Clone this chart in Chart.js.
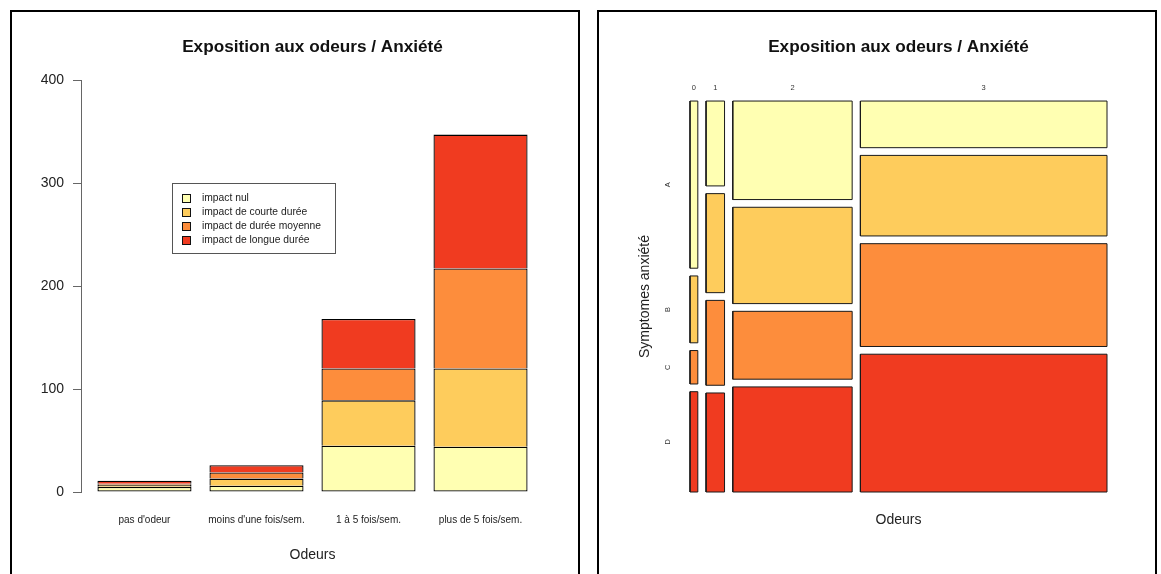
<!DOCTYPE html>
<html lang="fr">
<head>
<meta charset="utf-8">
<title>Exposition aux odeurs / Anxiété</title>
<script src="https://cdn.jsdelivr.net/npm/chart.js@4.4.1/dist/chart.umd.min.js"></script>
<style>
  html, body { margin: 0; padding: 0; background: #fff; overflow: hidden; }
  .panel { position: absolute; top: 10px; height: 600px; border: 2px solid #000; }
  #p1 { left: 10px; width: 566px; }
  #p2 { left: 597px; width: 556px; }
  canvas { display: block; }
</style>
</head>
<body>
<div class="panel" id="p1"><canvas id="barres" width="566" height="562"></canvas></div>
<div class="panel" id="p2"><canvas id="mosaique" width="556" height="562"></canvas></div>
<script>
// données
const odeurs = ["pas d'odeur", "moins d'une fois/sem.", "1 à 5 fois/sem.", "plus de 5 fois/sem."];
const impacts = ["impact nul", "impact de courte durée", "impact de durée moyenne", "impact de longue durée"];
const impactNul   = [5, 6, 45, 44];
const impactCourt = [2, 7, 44, 76];
const impactMoyen = [1, 6, 31, 97];
const impactLong  = [3, 7, 48, 130];
const codesOdeurs = ["0", "1", "2", "3"];
const codesAnxiete = ["A", "B", "C", "D"];
const yTicks = [0, 100, 200, 300, 400];

const titre = "Exposition aux odeurs / Anxiété";
const couleurs = ["#FFFFB2", "#FECC5C", "#FD8D3C", "#F03B20"];
const series = [impactNul, impactCourt, impactMoyen, impactLong];

Chart.defaults.font.family = "'Liberation Sans', Arial, sans-serif";
Chart.defaults.color = "#222";

// positions des barres comme barplot() de R (largeur 1, espace 0.2)
const centres = odeurs.map((_, i) => 0.7 + 1.2 * i);

// légende dessinée dans la zone du graphique, coin haut gauche en (1, 300)
const legendeAt = { x: 1, y: 300 };
const legendeBoite = {
    id: "legendeBoite",
    afterDatasetsDraw(chart) {
        const ctx = chart.ctx;
        const left = chart.scales.x.getPixelForValue(legendeAt.x);
        const top = chart.scales.y.getPixelForValue(legendeAt.y);
        ctx.save();
        ctx.font = "10.3px 'Liberation Sans', Arial, sans-serif";
        let w = 0;
        chart.data.datasets.forEach(ds => { w = Math.max(w, ctx.measureText(ds.label).width); });
        const width = 29.5 + w + 14;
        const height = 70;
        ctx.strokeStyle = "#555";
        ctx.lineWidth = 1;
        ctx.strokeRect(Math.round(left) + 0.5, Math.round(top) + 0.5, Math.round(width), height);
        chart.data.datasets.forEach((ds, k) => {
            const yc = top + 15 + 14 * k;
            ctx.fillStyle = ds.backgroundColor;
            ctx.fillRect(Math.round(left + 10), Math.round(yc - 4.5), 9, 9);
            ctx.strokeStyle = "#111";
            ctx.strokeRect(Math.round(left + 10) + 0.5, Math.round(yc - 4.5) + 0.5, 8, 8);
            ctx.fillStyle = "#222";
            ctx.textBaseline = "middle";
            ctx.fillText(ds.label, left + 29.5, yc);
        });
        ctx.restore();
    }
};

new Chart(document.getElementById("barres"), {
    type: "bar",
    data: {
        datasets: series.map((vals, k) => ({
            label: impacts[k],
            data: vals.map((v, i) => ({ x: centres[i], y: v })),
            backgroundColor: couleurs[k],
            borderColor: "#000",
            borderWidth: 1.3,
            borderSkipped: k === 0 ? false : "start",
            barPercentage: 0.84,
            categoryPercentage: 1
        }))
    },
    options: {
        responsive: false,
        animation: false,
        layout: { padding: { left: 0, right: 34, top: 0, bottom: 0 } },
        plugins: {
            legend: { display: false },
            tooltip: { enabled: false },
            title: {
                display: true, text: titre, fullSize: false, color: "#111",
                font: { size: 17.2, weight: "bold" },
                padding: { top: 25, bottom: 22.4 }
            }
        },
        scales: {
            x: {
                type: "linear", min: 0.02, max: 4.98, stacked: true, offset: false,
                grid: { display: false, offset: false }, border: { display: false },
                afterBuildTicks: s => { s.ticks = centres.map(v => ({ value: v })); },
                ticks: { callback: (v, i) => odeurs[i], font: { size: 10 }, padding: 14, maxRotation: 0, autoSkip: false },
                title: { display: true, text: "Odeurs", font: { size: 14 }, padding: { top: 0, bottom: 10 } },
                afterFit: s => { s.height = 82; }
            },
            y: {
                min: yTicks[0], max: yTicks[yTicks.length - 1], stacked: true,
                afterBuildTicks: s => { s.ticks = yTicks.map(v => ({ value: v })); },
                grid: { display: true, drawOnChartArea: false, tickLength: 8, color: "#666" },
                border: { display: true, color: "#666" },
                ticks: { font: { size: 14 }, padding: 9 },
                afterFit: s => { s.width = 69; }
            }
        }
    },
    plugins: [legendeBoite]
});

// mosaïque : largeurs des colonnes selon les totaux, hauteurs selon les proportions
const totaux = odeurs.map((_, i) => series.reduce((s, vals) => s + vals[i], 0));
const total = totaux.reduce((a, b) => a + b, 0);
const ecart = 0.021;
const xMax = 1 + ecart * (odeurs.length - 1);
const yMax = 1 + ecart * (impacts.length - 1);
const centresColonnes = [];
const centresLignes = [];
const rects = [];
let x0 = 0;
totaux.forEach((t, i) => {
    const x1 = x0 + t / total;
    centresColonnes.push((x0 + x1) / 2);
    let y0 = 0;
    series.forEach((vals, k) => {
        const y1 = y0 + vals[i] / t;
        if (i === 0) centresLignes.push((y0 + y1) / 2);
        rects.push({
            label: codesOdeurs[i] + "/" + codesAnxiete[k],
            data: [{ x: x0, y: y0 }, { x: x0, y: y1 }, { x: x1, y: y1 }, { x: x1, y: y0 }, { x: x0, y: y0 }],
            showLine: true,
            fill: "shape",
            backgroundColor: couleurs[k],
            borderColor: "#1a1a1a",
            borderWidth: 1,
            pointRadius: 0,
            clip: false
        });
        y0 = y1 + ecart;
    });
    x0 = x1 + ecart;
});

new Chart(document.getElementById("mosaique"), {
    type: "scatter",
    data: { datasets: rects },
    options: {
        responsive: false,
        animation: false,
        layout: { padding: { left: 0, right: 48, top: 0, bottom: 0 } },
        plugins: {
            legend: { display: false },
            tooltip: { enabled: false },
            title: {
                display: true, text: titre, fullSize: false, color: "#111",
                font: { size: 17.2, weight: "bold" },
                padding: { top: 25, bottom: 13.4 }
            }
        },
        scales: {
            x: {
                type: "linear", position: "top", min: 0, max: xMax,
                grid: { display: false }, border: { display: false },
                afterBuildTicks: s => { s.ticks = centresColonnes.map(v => ({ value: v })); },
                ticks: { callback: (v, i) => codesOdeurs[i], font: { size: 7.5 }, color: "#333", padding: 1, maxRotation: 0, autoSkip: false },
                afterFit: s => { s.height = 30; }
            },
            x2: {
                type: "linear", position: "bottom", min: 0, max: 1,
                grid: { display: false }, border: { display: false },
                ticks: { display: false },
                title: { display: true, text: "Odeurs", font: { size: 14 }, padding: { top: 0, bottom: 45 } },
                afterFit: s => { s.height = 82; }
            },
            y: {
                type: "linear", reverse: true, min: 0, max: yMax,
                grid: { display: false }, border: { display: false },
                afterBuildTicks: s => { s.ticks = centresLignes.map(v => ({ value: v })); },
                ticks: { callback: (v, i) => codesAnxiete[i], font: { size: 7.5 }, color: "#333", minRotation: 90, maxRotation: 90, crossAlign: "center", padding: 11, autoSkip: false },
                title: { display: true, text: "Symptomes anxiété", font: { size: 14 }, padding: { top: 37.6, bottom: 0 } },
                afterFit: s => { s.width = 91; }
            }
        }
    }
});
</script>
</body>
</html>
